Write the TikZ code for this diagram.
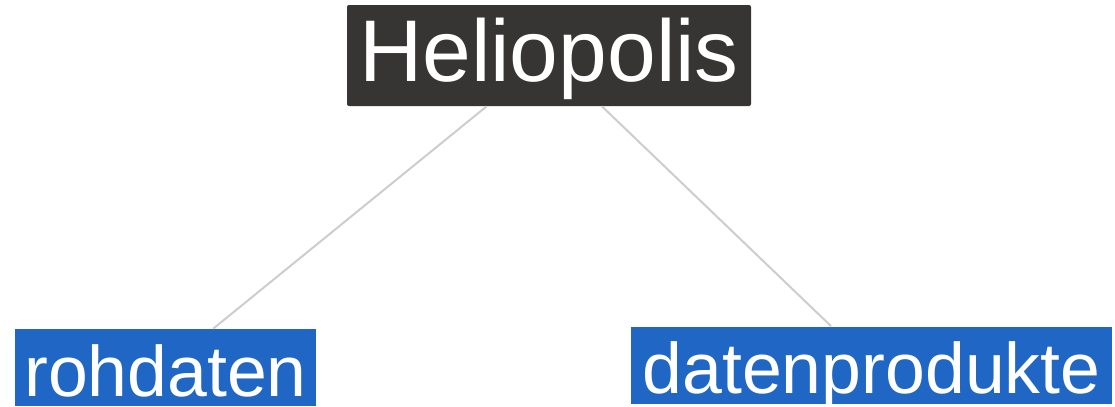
\documentclass[tikz,border=0pt]{standalone}
\usepackage{fontspec}
\setmainfont{Liberation Sans}
\definecolor{rootgrey}{RGB}{55,52,52}
\definecolor{leafblue}{RGB}{32,102,197}
\definecolor{edgegrey}{RGB}{205,205,205}

\begin{document}
\begin{tikzpicture}[x=0.5pt,y=-0.5pt,
  rootbox/.style={fill=rootgrey,text=white,inner sep=0pt,rounded corners=1pt,
    minimum width=202pt,text height=38.5pt,text depth=12pt,
    font=\fontsize{43.8}{44}\selectfont},
  leafbox/.style={fill=leafblue,text=white,inner sep=0pt,
    text height=33.5pt,text depth=5pt,
    font=\fontsize{35.8}{36}\selectfont}]
\useasboundingbox (0,0) rectangle (1115,407);
\node[rootbox] (helio) at (549,55.5) {Heliopolis};
\node[leafbox,minimum width=150.5pt] (roh) at (165.5,367.5) {rohdaten};
\node[leafbox,minimum width=240.5pt] (produkte) at (871.5,365) {datenprodukte};
\draw[edgegrey,line width=1pt] (helio) -- (roh);
\draw[edgegrey,line width=1pt] (helio) -- (produkte);
\end{tikzpicture}
\end{document}
